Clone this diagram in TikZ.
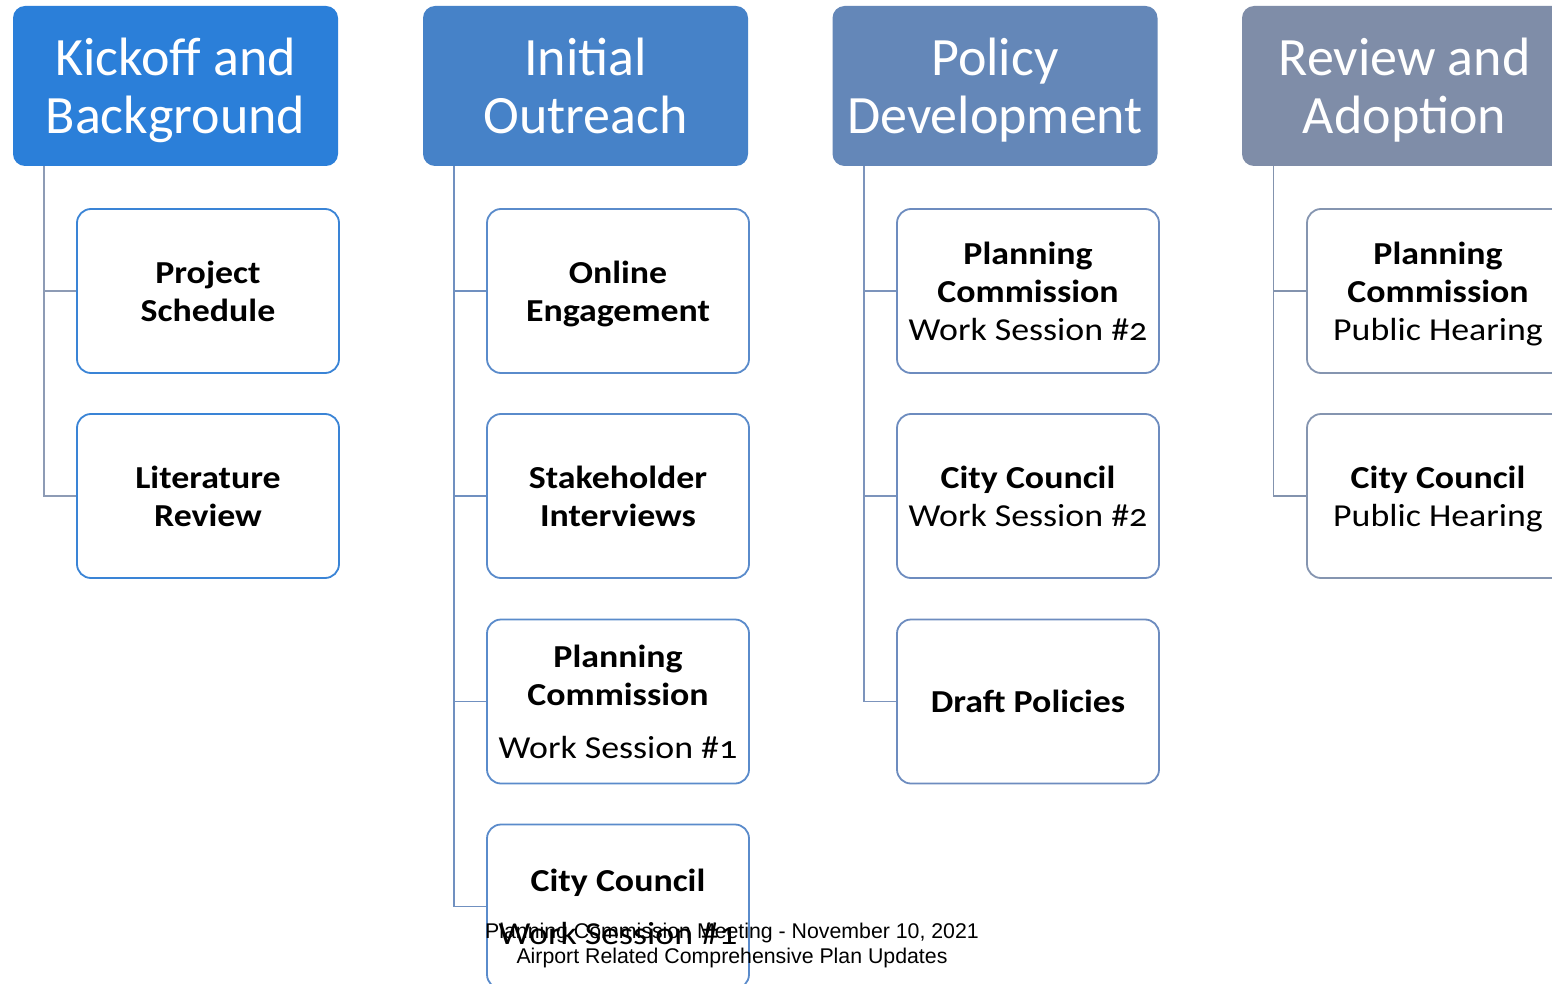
\documentclass[tikz,border=0pt]{standalone}
\usepackage{fontspec}
\setmainfont{Carlito}[Numbers=OldStyle]
\newfontfamily\boxfont{Carlito}[Numbers=OldStyle, FakeStretch=1.12]
\newfontfamily\footfont{Liberation Sans}
\definecolor{hA}{HTML}{2B7FD9}
\definecolor{hB}{HTML}{4682C8}
\definecolor{hC}{HTML}{6487B8}
\definecolor{hD}{HTML}{7F8DA8}
\definecolor{bA}{HTML}{3A84D6}
\definecolor{bB}{HTML}{5A8BCB}
\definecolor{bC}{HTML}{6D8CBF}
\definecolor{bD}{HTML}{8595B0}
\definecolor{lA}{HTML}{8D9BB5}
\definecolor{lB}{HTML}{7090C0}
\definecolor{lC}{HTML}{7C94BC}
\definecolor{lD}{HTML}{8393AE}
\tikzset{
  hdr/.style={rounded corners=12pt, minimum width=325pt, minimum height=160pt,
    text=white, font=\fontsize{54}{58}\selectfont, align=center, inner sep=0pt},
  child/.style={draw, line width=1.8pt, rounded corners=14pt, fill=white,
    minimum width=262pt, minimum height=164pt, align=center, inner sep=0pt,
    font=\boxfont\fontsize{32}{38}\selectfont, text=black},
  conn/.style={line width=1.8pt},
  foot/.style={font=\footfont\fontsize{21.3}{25}\selectfont, align=center, text=black, inner sep=0pt}
}
\begin{document}
\begin{tikzpicture}[x=1pt,y=-1pt]
\useasboundingbox (0,0) rectangle (1552,984);
\clip (0,0) rectangle (1552,984);
\fill[white] (0,0) rectangle (1552,984);
% headers
\node[hdr, fill=hA] (h1) at (175.5,86) {Kickoff and\\\smash{Background}};
\node[hdr, fill=hB] (h2) at (585.5,86) {Initial\\Outreach};
\node[hdr, fill=hC] (h3) at (995,86) {Policy\\\smash{Development}};
\node[hdr, fill=hD] (h4) at (1404.5,86) {Review and\\\smash{Adoption}};
% trunk tops
\coordinate (t1) at (44,166);
\coordinate (t2) at (454,166);
\coordinate (t3) at (864,166);
\coordinate (t4) at (1273.5,166);
% column 1
\node[child, draw=bA] (c11) at (208,291) {\textbf{Project}\\\textbf{Schedule}};
\node[child, draw=bA] (c12) at (208,496) {\textbf{Literature}\\\textbf{Review}};
% column 2
\node[child, draw=bB] (c21) at (618,291) {\textbf{Online}\\\smash{\textbf{Engagement}}};
\node[child, draw=bB] (c22) at (618,496) {\textbf{Stakeholder}\\\textbf{Interviews}};
\node[child, draw=bB] (c23) at (618,701.5) {\textbf{Planning}\\\textbf{Commission}\\[15pt]Work Session \#1};
\node[child, draw=bB] (c24) at (618,906.5) {\textbf{City Council}\\[15pt]Work Session \#1};
% column 3
\node[child, draw=bC] (c31) at (1028,291) {\textbf{Planning}\\\textbf{Commission}\\Work Session \#2};
\node[child, draw=bC] (c32) at (1028,496) {\textbf{City Council}\\Work Session \#2};
\node[child, draw=bC] (c33) at (1028,701.5) {\textbf{Draft Policies}};
% column 4
\node[child, draw=bD] (c41) at (1438,291) {\textbf{Planning}\\\textbf{Commission}\\\smash{Public Hearing}};
\node[child, draw=bD] (c42) at (1438,496) {\textbf{City Council}\\\smash{Public Hearing}};
% connectors
\draw[conn, lA] (t1) |- (c12.west);
\draw[conn, lA] (t1) |- (c11.west);
\draw[conn, lB] (t2) |- (c24.west);
\draw[conn, lB] (t2) |- (c21.west);
\draw[conn, lB] (t2) |- (c22.west);
\draw[conn, lB] (t2) |- (c23.west);
\draw[conn, lC] (t3) |- (c33.west);
\draw[conn, lC] (t3) |- (c31.west);
\draw[conn, lC] (t3) |- (c32.west);
\draw[conn, lD] (t4) |- (c42.west);
\draw[conn, lD] (t4) |- (c41.west);
% footer
\node[foot] (f1) at (732,933) {Planning Commission Meeting - November 10, 2021};
\node[foot] (f2) at (732,958) {Airport Related Comprehensive Plan Updates};
\end{tikzpicture}
\end{document}
